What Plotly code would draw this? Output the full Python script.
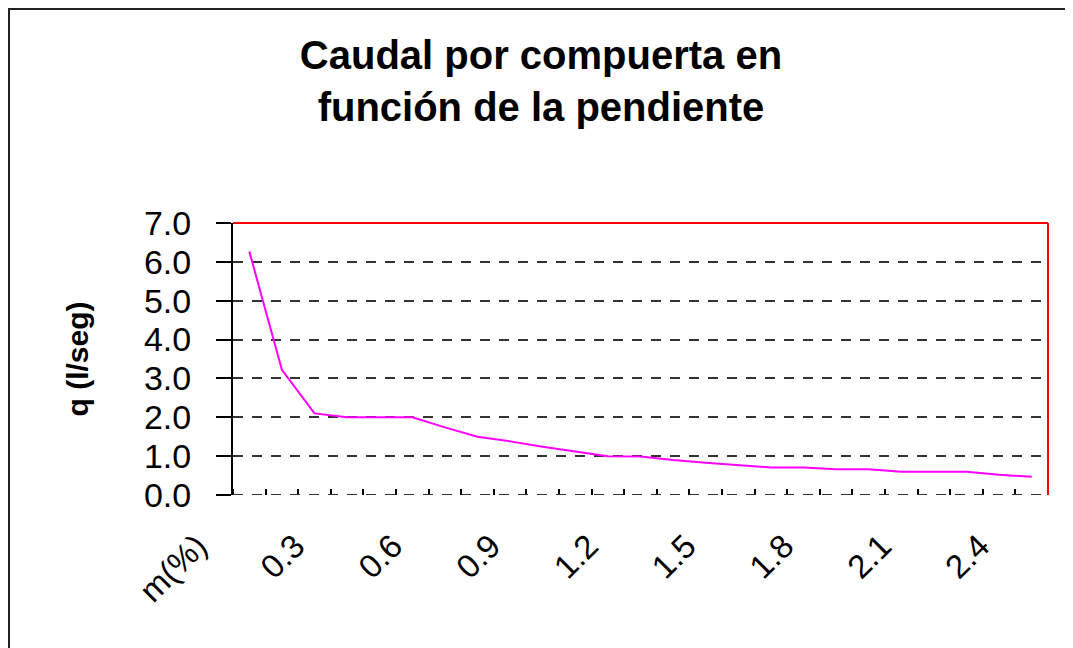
import plotly.graph_objects as go

# Data
categories = ["m(%)", "0.1", "0.2", "0.3", "0.4", "0.5", "0.6", "0.7", "0.8", "0.9",
              "1", "1.1", "1.2", "1.3", "1.4", "1.5", "1.6", "1.7", "1.8", "1.9",
              "2", "2.1", "2.2", "2.3", "2.4"]
q_values = [6.27, 3.22, 2.1, 2.0, 2.0, 2.0, 1.74, 1.5, 1.38, 1.24,
            1.12, 1.0, 0.99, 0.9, 0.83, 0.77, 0.71, 0.71, 0.66, 0.66,
            0.6, 0.6, 0.6, 0.52, 0.47]
tick_labels = ["m(%)", "0.3", "0.6", "0.9", "1.2", "1.5", "1.8", "2.1", "2.4"]
y_ticks = [0, 1, 2, 3, 4, 5, 6, 7]

idx = list(range(len(categories)))
label_pos = [categories.index(t) for t in tick_labels]
boundaries = [i - 0.5 for i in range(len(categories) + 1)]

W, H = 1073, 648
L, R, T, B = 225, 33, 215, 161
pw, ph = W - L - R, H - T - B
GRID = dict(color="#333333", width=2, dash="10px,9px")

fig = go.Figure()
fig.add_trace(go.Scatter(
    x=idx, y=q_values, mode="lines",
    line=dict(color="#FF00FF", width=2),
    customdata=categories,
    hovertemplate="m(%%)=%{customdata}<br>q=%{y}<extra></extra>",
    showlegend=False,
))

fig.update_layout(
    width=W, height=H,
    margin=dict(l=L, r=R, t=T, b=B, autoexpand=False),
    paper_bgcolor="white", plot_bgcolor="white",
    font=dict(family="Liberation Sans, Arial, sans-serif", color="black"),
    title=dict(
        text="<b>Caudal por compuerta en<br>función de la pendiente</b>",
        x=533 / W, xanchor="center",
        y=1 - 61 / H, yanchor="top",
        font=dict(size=40, family="Liberation Sans, Arial, sans-serif", color="black"),
        automargin=False,
    ),
    xaxis=dict(
        automargin=False,
        range=[-0.5, len(categories) - 0.5],
        tickmode="array", tickvals=label_pos, ticktext=tick_labels,
        tickangle=-45, ticks="", showgrid=False, zeroline=False, showline=False,
        tickfont=dict(size=33, color="black"),
        ticklabelshift=-52, ticklabelstandoff=24,
        minor=dict(tickmode="array", tickvals=boundaries, ticks="inside",
                   ticklen=6, tickwidth=2, tickcolor="black", showgrid=False),
    ),
    yaxis=dict(
        automargin=False,
        range=[0, 7], tickmode="array", tickvals=y_ticks,
        tickformat=".1f", ticks="outside", ticklen=15, tickwidth=2, tickcolor="black",
        showline=True, linecolor="black", linewidth=2,
        showgrid=True, gridcolor=GRID["color"], gridwidth=GRID["width"], griddash=GRID["dash"],
        zeroline=False,
        tickfont=dict(size=34, color="black"),
        ticklabelstandoff=18,
        title=dict(text="<b>q (l/seg)</b>", font=dict(size=30, color="black"), standoff=46),
    ),
    shapes=[
        # dashed baseline at q = 0 (category axis)
        dict(type="line", xref="paper", yref="y", x0=0, x1=1, y0=0, y1=0, line=GRID),
        dict(type="line", xref="paper", yref="paper", x0=0, x1=1, y0=1, y1=1,
             line=dict(color="#FF0000", width=2)),
        dict(type="line", xref="paper", yref="paper", x0=1, x1=1, y0=0, y1=1,
             line=dict(color="#FF0000", width=2)),
        dict(type="rect", xref="paper", yref="paper",
             x0=(1 - L) / pw, x1=(W + 12 - L) / pw,
             y0=(H - B - (H + 12)) / ph, y1=(H - B - 1) / ph,
             line=dict(color="#222222", width=2), fillcolor="rgba(0,0,0,0)"),
    ],
)

fig.write_html("out.html")
